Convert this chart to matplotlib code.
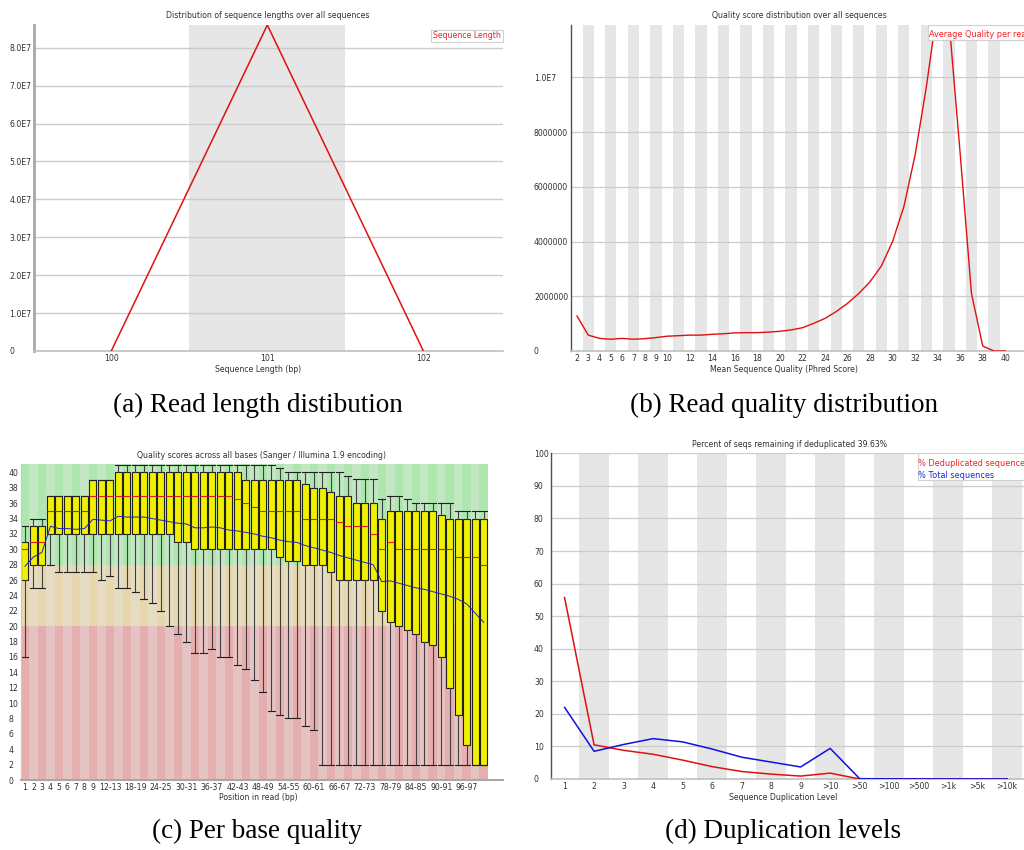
import matplotlib
matplotlib.use("Agg")
import matplotlib.pyplot as plt
from matplotlib.patches import Rectangle

W, H = 1024, 850

# ---------------- data ----------------
# (a) read length distribution
len_x = [100, 101, 102]
len_y = [0, 8.6e7, 0]
len_yticks = [0, 1e7, 2e7, 3e7, 4e7, 5e7, 6e7, 7e7, 8e7]
len_yticklabels = ["0", "1.0E7", "2.0E7", "3.0E7", "4.0E7", "5.0E7", "6.0E7", "7.0E7", "8.0E7"]
len_xticks = [100, 101, 102]

# (b) read quality distribution
qual_x = list(range(2, 41))
qual_y = [1.28e6, 0.58e6, 0.46e6, 0.43e6, 0.46e6, 0.43e6, 0.45e6, 0.49e6, 0.54e6, 0.56e6,
          0.58e6, 0.58e6, 0.61e6, 0.63e6, 0.66e6, 0.67e6, 0.67e6, 0.69e6, 0.72e6, 0.77e6,
          0.85e6, 1.01e6, 1.19e6, 1.44e6, 1.74e6, 2.10e6, 2.53e6, 3.10e6, 4.00e6, 5.27e6,
          7.16e6, 9.66e6, 12.6e6, 12.1e6, 7.2e6, 2.1e6, 0.18e6, 0.0, 0.0]
qual_xticks = [2, 3, 4, 5, 6, 7, 8, 9, 10, 12, 14, 16, 18, 20, 22, 24, 26, 28, 30, 32, 34, 36, 38, 40]
qual_yticks = [0, 2e6, 4e6, 6e6, 8e6, 1e7]
qual_yticklabels = ["0", "2000000", "4000000", "6000000", "8000000", "1.0E7"]

# (c) per base quality
positions = [str(i) for i in range(1, 10)] + ["%d-%d" % (i, i + 1) for i in range(10, 101, 2)]
q1 = [26, 28, 28, 32, 32, 32, 32, 32, 32, 32, 32, 32, 32, 32, 32, 32, 32, 32, 31, 31,
      30, 30, 30, 30, 30, 30, 30, 30, 30, 30, 29, 28.5, 28.5, 28, 28, 28, 27, 26, 26, 26,
      26, 26, 22, 20.5, 20, 19.5, 19, 18, 17.5, 16, 12, 8.5, 4.5, 2, 2]
med = [30, 31, 31, 35, 35, 35, 35, 35, 37, 37, 37, 37, 37, 37, 37, 37, 37, 37, 37, 37,
       37, 37, 37, 37, 37, 36.5, 36, 35.5, 35, 35, 35, 35, 35, 34, 34, 34, 34, 33.5, 33, 33,
       33, 32, 30, 31, 30, 30, 30, 30, 30, 30, 30, 29, 29, 29, 28]
q3 = [31, 33, 33, 37, 37, 37, 37, 37, 39, 39, 39, 40, 40, 40, 40, 40, 40, 40, 40, 40,
      40, 40, 40, 40, 40, 40, 39, 39, 39, 39, 39, 39, 39, 38.5, 38, 38, 37.5, 37, 37, 36,
      36, 36, 34, 35, 35, 35, 35, 35, 35, 34.5, 34, 34, 34, 34, 34]
lo = [16, 25, 25, 28, 27, 27, 27, 27, 27, 26, 26.5, 25, 25, 24.5, 23.5, 23, 22, 20, 19, 18,
      16.5, 16.5, 17, 16, 16, 15, 14.5, 13, 11.5, 9, 8.5, 8, 8, 7, 6.5, 2, 2, 2, 2, 2,
      2, 2, 2, 2, 2, 2, 2, 2, 2, 2, 2, 2, 2, 2, 2]
hi = [33, 34, 34, 37, 37, 37, 37, 37, 39, 39, 39, 41, 41, 41, 41, 41, 41, 41, 41, 41,
      41, 41, 41, 41, 41, 41, 41, 41, 41, 41, 40.6, 40, 40, 40, 40, 40, 40, 40, 39.6, 39.1,
      39.1, 39.1, 36.5, 37, 37, 36.5, 36, 36, 36, 36, 36, 35, 35, 35, 35]
mean = [27.8, 29.0, 29.6, 33.0, 32.7, 32.7, 32.6, 32.7, 33.9, 33.8, 33.7, 34.3, 34.2, 34.2, 34.2,
        34.0, 33.8, 33.6, 33.4, 33.3, 32.8, 32.8, 32.9, 32.8, 32.5, 32.4, 32.2, 32.0, 31.7, 31.5,
        31.2, 31.0, 30.9, 30.5, 30.2, 29.9, 29.6, 29.2, 28.9, 28.6, 28.3, 28.0, 25.8, 25.9, 25.6,
        25.3, 25.0, 24.8, 24.5, 24.2, 23.9, 23.5, 22.9, 21.7, 20.5]
pos_ticklabels = [str(i) for i in range(1, 10)] + ["%d-%d" % (i, i + 1) for i in range(12, 97, 6)]
qual_zones = [(0, 20), (20, 28), (28, 41.1)]

# (d) duplication levels
dup_levels = ["1", "2", "3", "4", "5", "6", "7", "8", "9", ">10", ">50", ">100", ">500", ">1k", ">5k", ">10k"]
dedup_pct = [55.7, 10.5, 8.8, 7.6, 5.8, 3.8, 2.3, 1.5, 0.9, 1.8, 0.0, 0.0, 0.0, 0.0, 0.0, 0.0]
total_pct = [22.0, 8.5, 10.6, 12.4, 11.4, 9.2, 6.7, 5.2, 3.7, 9.4, 0.1, 0.05, 0.03, 0.02, 0.01, 0.0]
dup_yticks = list(range(0, 101, 10))

# ---------------- styling helpers ----------------
SMALL = 5.6
LEG = 5.85
TXT = "#303030"
STRIPE = "#e6e6e6"
GRID = "#cccccc"
CAPFONT = ["Liberation Serif", "DejaVu Serif"]
CAPSIZE = 19.5

fig = plt.figure(figsize=(W / 100, H / 100), dpi=100)
fig.patch.set_facecolor("white")


def add_ax(l, t, r, b):
    return fig.add_axes([l / W, 1 - b / H, (r - l) / W, (b - t) / H])


def ftext(x, y, s, **kw):
    kw.setdefault("ha", "center")
    kw.setdefault("va", "center")
    kw.setdefault("fontsize", SMALL)
    kw.setdefault("color", TXT)
    return fig.text(x / W, 1 - y / H, s, **kw)


def style(ax, ypad_px, left_color, left_lw, bottom_color="#c0c0c0", bottom_lw=1.2):
    for s in ("top", "right"):
        ax.spines[s].set_visible(False)
    ax.spines["left"].set_color(left_color)
    ax.spines["left"].set_linewidth(left_lw)
    ax.spines["bottom"].set_color(bottom_color)
    ax.spines["bottom"].set_linewidth(bottom_lw)
    ax.tick_params(axis="both", length=0, labelsize=SMALL, labelcolor=TXT)
    ax.tick_params(axis="x", pad=2.0)
    ax.tick_params(axis="y", pad=ypad_px * 0.72)
    for lab in ax.get_yticklabels():
        lab.set_ha("left")


# ---------------- (a) ----------------
axa = add_ax(34, 25, 503, 351)
axa.axvspan(100.5, 101.5, color=STRIPE, zorder=0.1, lw=0)
axa.plot(len_x, len_y, color="#e01010", lw=1.1, zorder=3)
axa.set_xlim(99.505, 102.51)
axa.set_ylim(0, 8.6e7)
axa.set_xticks(len_xticks)
axa.set_xticklabels([str(v) for v in len_xticks])
axa.set_yticks(len_yticks)
axa.set_yticklabels(len_yticklabels)
axa.yaxis.grid(True, color=GRID, lw=1.0)
axa.set_axisbelow(True)
style(axa, 24.5, "#a8a8a8", 2.0)
ftext(267.8, 16, "Distribution of sequence lengths over all sequences")
ftext(258.5, 370, "Sequence Length (bp)")
ftext(433, 36, "Sequence Length", ha="left", color="#ee2020",
      bbox=dict(boxstyle="square,pad=0.25", fc="white", ec="#d0d0d0", lw=0.8))

# ---------------- (b) ----------------
axb = add_ax(571, 25, 1024, 351)
for v in range(3, 40, 2):
    axb.axvspan(v - 0.5, v + 0.5, color=STRIPE, zorder=0.1, lw=0)
axb.plot(qual_x, qual_y, color="#e01010", lw=1.0, zorder=3)
axb.set_xlim(1.47, 41.66)
axb.set_ylim(0, 1.191e7)
axb.set_xticks(qual_xticks)
axb.set_xticklabels([str(v) for v in qual_xticks])
axb.set_yticks(qual_yticks)
axb.set_yticklabels(qual_yticklabels)
axb.yaxis.grid(True, color=GRID, lw=0.9)
axb.set_axisbelow(True)
style(axb, 37, "#505050", 1.0)
ftext(799, 16, "Quality score distribution over all sequences")
ftext(783.5, 370, "Mean Sequence Quality (Phred Score)")
fig.patches.append(Rectangle((927.7 / W, 1 - 39.5 / H), 100 / W, 14.5 / H, transform=fig.transFigure,
                             fc="white", ec="#d0d0d0", lw=0.8, zorder=5))
ftext(929, 34.5, "Average Quality per read", ha="left", color="#ee2020", fontsize=LEG, zorder=6)

# ---------------- (c) ----------------
axc = add_ax(20.7, 464, 503, 780)
n = len(positions)
idx = list(range(n))
good = [("#afe6af", "#c3e6c3"), ("#e6d7af", "#e6dcc3"), ("#e6afaf", "#e6c3c3")]
zone_cols = [good[2], good[1], good[0]]
for (z0, z1), (dark, light) in zip(qual_zones, zone_cols):
    cols = [dark if i % 2 == 0 else light for i in idx]
    axc.bar(idx, [z1 - z0] * n, bottom=z0, width=1.0, color=cols, lw=0, zorder=0.1)
stats = [dict(q1=q1[i], med=med[i], q3=q3[i], whislo=lo[i], whishi=hi[i], fliers=[], label=positions[i])
         for i in idx]
axc.bxp(stats, positions=idx, widths=0.82, capwidths=0.82, patch_artist=True, manage_ticks=False,
        boxprops=dict(facecolor="#f0f000", edgecolor="#202020", lw=0.8),
        medianprops=dict(color="#e02020", lw=0.8),
        whiskerprops=dict(color="#404040", lw=0.8),
        capprops=dict(color="#202020", lw=0.8), zorder=2)
axc.plot(idx, mean, color="#2020c0", lw=0.7, zorder=4)
axc.set_xlim(-0.5, 56.27)
axc.set_ylim(0, 41.1)
tick_pos = [positions.index(t) for t in pos_ticklabels]
axc.set_xticks(tick_pos)
axc.set_xticklabels(pos_ticklabels)
axc.set_yticks(list(range(0, 41, 2)))
axc.set_yticklabels([str(v) for v in range(0, 41, 2)])
style(axc, 12.2, "#c8c8c8", 0.8, bottom_color="#a8a8a8", bottom_lw=1.5)
ftext(261.8, 455, "Quality scores across all bases (Sanger / Illumina 1.9 encoding)")
ftext(258, 798, "Position in read (bp)")

# ---------------- (d) ----------------
axd = add_ax(551.3, 453.3, 1024, 779)
m = len(dup_levels)
for i in range(1, m, 2):
    axd.axvspan(i - 0.5, i + 0.5, color=STRIPE, zorder=0.1, lw=0)
axd.plot(range(m), dedup_pct, color="#e01010", lw=1.1, zorder=3, label="% Deduplicated sequences")
axd.plot(range(m), total_pct, color="#1010e0", lw=1.1, zorder=4, label="% Total sequences")
axd.set_xlim(-0.45, 15.57)
axd.set_ylim(0, 100)
axd.set_xticks(range(m))
axd.set_xticklabels(dup_levels)
axd.set_yticks(dup_yticks)
axd.set_yticklabels([str(v) for v in dup_yticks])
axd.yaxis.grid(True, color=GRID, lw=0.9)
axd.set_axisbelow(True)
style(axd, 17.3, "#505050", 1.0)
ftext(789.5, 444.5, "Percent of seqs remaining if deduplicated 39.63%")
ftext(783.3, 798, "Sequence Duplication Level")
fig.patches.append(Rectangle((917.7 / W, 1 - 480 / H), 120 / W, 26.7 / H, transform=fig.transFigure,
                             fc="white", ec="#d0d0d0", lw=0.8, zorder=5))
ftext(918.5, 463, "% Deduplicated sequences", ha="left", color="#ee2020", fontsize=LEG, zorder=6)
ftext(918.5, 475.5, "% Total sequences", ha="left", color="#2020ee", fontsize=LEG, zorder=6)

# ---------------- captions ----------------
ftext(258, 405, "(a) Read length distibution", fontsize=CAPSIZE, family=CAPFONT, color="black")
ftext(783.5, 405, "(b) Read quality distribution", fontsize=CAPSIZE, family=CAPFONT, color="black")
ftext(257.5, 831, "(c) Per base quality", fontsize=CAPSIZE, family=CAPFONT, color="black")
ftext(783.5, 831, "(d) Duplication levels", fontsize=CAPSIZE, family=CAPFONT, color="black")

fig.savefig("out.png", dpi=100)
